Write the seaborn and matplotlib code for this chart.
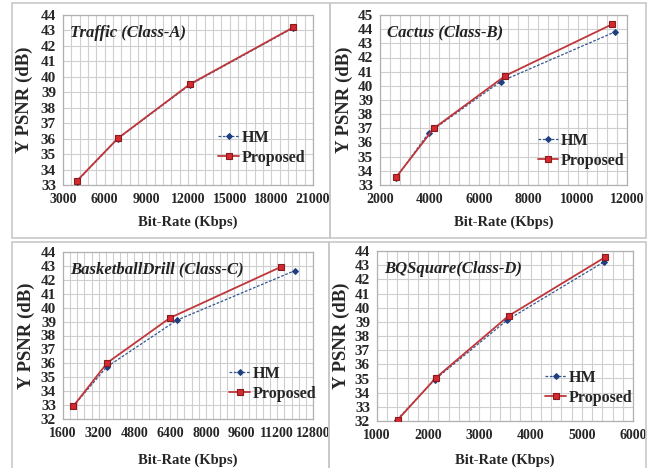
import numpy as np
import pandas as pd
import matplotlib
matplotlib.use("Agg")
import matplotlib.pyplot as plt
from matplotlib.ticker import MultipleLocator
from matplotlib.patches import Rectangle
import seaborn as sns

# ------------------------------
# Data
# ------------------------------
a_rate_hm = [3980, 6950, 12130, 19580]
a_psnr_hm = [33.22, 36.0, 39.48, 43.17]
a_rate_prop = [3980, 6950, 12130, 19580]
a_psnr_prop = [33.25, 36.02, 39.52, 43.2]

b_rate_hm = [2650, 3980, 6880, 11500]
b_psnr_hm = [33.5, 36.7, 40.3, 43.8]
b_rate_prop = [2650, 4180, 7080, 11380]
b_psnr_prop = [33.55, 37.0, 40.72, 44.33]

c_rate_hm = [2050, 3560, 6700, 12000]
c_psnr_hm = [32.9, 35.74, 39.1, 42.67]
c_rate_prop = [2050, 3590, 6400, 11350]
c_psnr_prop = [32.9, 36.05, 39.27, 42.92]

d_rate_hm = [1390, 2130, 3540, 5440]
d_psnr_hm = [32.1, 34.92, 39.12, 43.25]
d_rate_prop = [1410, 2150, 3570, 5450]
d_psnr_prop = [32.1, 35.05, 39.42, 43.55]

titles = ["Traffic (Class-A)", "Cactus (Class-B)",
          "BasketballDrill (Class-C)", "BQSquare(Class-D)"]
series_names = ["HM", "Proposed"]

# ------------------------------
# Style
# ------------------------------
sns.set_style("white")
plt.rcParams['font.family'] = ['Liberation Serif', 'DejaVu Serif']
plt.rcParams['font.weight'] = 'bold'

W, H = 654, 468
fig = plt.figure(figsize=(W / 100, H / 100), dpi=100)


def px_axes(left, top, right, bottom):
    return fig.add_axes([left / W, 1 - bottom / H, (right - left) / W, (bottom - top) / H])


# panel frames (x0, y0, x1, y1 in pixels)
frames = [(12, 3, 330, 238), (330, 3, 646, 238), (12, 242, 329, 470), (329, 242, 646, 470)]
for x0, y0, x1, y1 in frames:
    fig.add_artist(Rectangle((x0 / W, 1 - y1 / H), (x1 - x0) / W, (y1 - y0) / H,
                             transform=fig.transFigure, fill=False,
                             edgecolor="#c8c8c8", lw=1.2, zorder=10))

panels = [
    dict(box=(63, 15, 313, 185), xlim=(3000, 21000), xmaj=3000, ylim=(33, 44),
         hm=(a_rate_hm, a_psnr_hm), prop=(a_rate_prop, a_psnr_prop),
         ylab_x=24, xlab_y=222, leg=(0.595, 0.22)),
    dict(box=(380, 15, 627, 185), xlim=(2000, 12000), xmaj=2000, ylim=(33, 45),
         hm=(b_rate_hm, b_psnr_hm), prop=(b_rate_prop, b_psnr_prop),
         ylab_x=344, xlab_y=222, leg=(0.612, 0.2)),
    dict(box=(63, 252, 313, 419), xlim=(1600, 12800), xmaj=1600, ylim=(32, 44),
         hm=(c_rate_hm, c_psnr_hm), prop=(c_rate_prop, c_psnr_prop),
         ylab_x=26, xlab_y=460, leg=(0.64, 0.21)),
    dict(box=(377, 251, 633, 421), xlim=(1000, 6000), xmaj=1000, ylim=(32, 44),
         hm=(d_rate_hm, d_psnr_hm), prop=(d_rate_prop, d_psnr_prop),
         ylab_x=341, xlab_y=460, leg=(0.633, 0.195)),
]

hm_color = "#34558f"
prop_color = "#c0363a"

for p, title in zip(panels, titles):
    ax = px_axes(*p["box"])
    sns.lineplot(x=p["hm"][0], y=p["hm"][1], ax=ax, sort=False, color=hm_color,
                 lw=0.9, linestyle=(0, (2.2, 1.3)), marker="D", markersize=3,
                 markerfacecolor="#1f3f80", markeredgecolor="#1f3f80",
                 label=series_names[0], zorder=3)
    sns.lineplot(x=p["prop"][0], y=p["prop"][1], ax=ax, sort=False, color=prop_color,
                 lw=1.3, marker="s", markersize=4.2, markerfacecolor="#d42a30",
                 markeredgecolor="#8a1a1e", markeredgewidth=0.8,
                 label=series_names[1], zorder=4)

    ax.set_xlim(*p["xlim"])
    ax.set_ylim(*p["ylim"])
    ax.xaxis.set_major_locator(MultipleLocator(p["xmaj"]))
    ax.xaxis.set_minor_locator(MultipleLocator(p["xmaj"] / 5))
    ax.yaxis.set_major_locator(MultipleLocator(1))
    ax.grid(which="both", axis="x", color="#cfcfcf", lw=0.8)
    ax.grid(which="major", axis="y", color="#cfcfcf", lw=0.8)
    ax.set_axisbelow(True)
    for s in ax.spines.values():
        s.set_color("#b0b0b0")
        s.set_linewidth(0.9)
    ax.tick_params(axis="y", which="major", labelsize=11, length=3, color="#999999", pad=2)
    ax.tick_params(axis="x", which="major", labelsize=10, length=0, pad=6)
    ax.tick_params(which="minor", length=0)
    for lab in ax.get_xticklabels() + ax.get_yticklabels():
        lab.set_fontweight("bold")

    ax.set_xlabel("")
    ax.set_ylabel("")
    x0, y0, x1, y1 = p["box"]
    fig.text(p["ylab_x"] / W, 1 - ((y0 + y1) / 2) / H, "Y PSNR (dB)", rotation=90,
             ha="center", va="center", fontsize=13.5, fontweight="bold")
    fig.text(((x0 + x1) / 2) / W, 1 - p["xlab_y"] / H, "Bit-Rate (Kbps)",
             ha="center", va="center", fontsize=10.5, fontweight="bold")

    ax.text(0.028, 0.895, title, transform=ax.transAxes, ha="left", va="center",
            fontsize=12, fontweight="bold", fontstyle="italic", color="#222222")

    leg = ax.legend(loc="center left", bbox_to_anchor=p["leg"], frameon=False,
                    fontsize=11.5, handlelength=1.3, handletextpad=0.15,
                    labelspacing=0.25, borderaxespad=0)
    for t in leg.get_texts():
        t.set_fontweight("bold")

fig.savefig("out.png", dpi=100, facecolor="white")
